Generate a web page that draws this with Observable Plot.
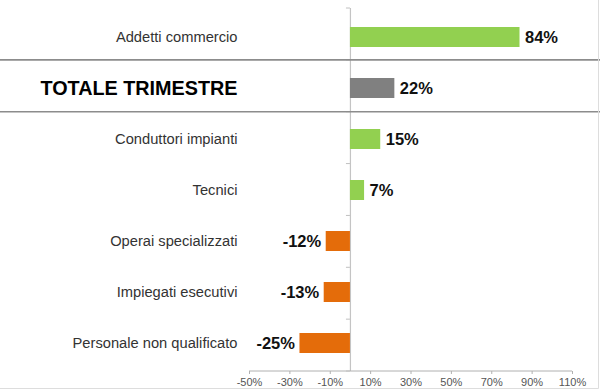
<!DOCTYPE html>
<html>
<head>
<meta charset="utf-8">
<script src="https://cdn.jsdelivr.net/npm/d3@7"></script>
<script src="https://cdn.jsdelivr.net/npm/@observablehq/plot@0.6"></script>
<style>
  html, body { margin: 0; padding: 0; background: #fff; }
  #chart { width: 600px; height: 390px; }
</style>
</head>
<body>
<div id="chart"></div>
<script>
const categories = ["Addetti commercio", "TOTALE TRIMESTRE", "Conduttori impianti", "Tecnici", "Operai specializzati", "Impiegati esecutivi", "Personale non qualificato"];
const values = [84, 22, 15, 7, -12, -13, -25];
const totalCategory = "TOTALE TRIMESTRE";
const xTicks = [-50, -30, -10, 10, 30, 50, 70, 90, 110];

const colors = { pos: "#92D050", neg: "#E46C0A", total: "#808080" };

const data = categories.map((cat, i) => ({
  cat,
  value: values[i],
  kind: cat === totalCategory ? "total" : (values[i] >= 0 ? "pos" : "neg")
}));

// Decorations: bottom axis line, category separators, small boundary ticks, outer border
function decorations(index, scales, values, dims) {
  const top = dims.marginTop;
  const bottom = dims.height - dims.marginBottom;
  const n = categories.length;
  const step = (bottom - top) / n;
  const x = scales.x;
  const g = d3.create("svg:g");
  const x0 = x(0);
  g.append("line")
    .attr("x1", x(xTicks[0])).attr("x2", x(xTicks[xTicks.length - 1]))
    .attr("y1", bottom).attr("y2", bottom)
    .attr("stroke", "#b0b0b0").attr("stroke-width", 1);
  for (let k = 0; k <= n; k++) {
    const yb = top + k * step;
    g.append("line")
      .attr("x1", x0 - 4).attr("x2", x0)
      .attr("y1", yb).attr("y2", yb)
      .attr("stroke", "#c0c0c0").attr("stroke-width", 1);
  }
  const ti = categories.indexOf(totalCategory);
  [ti, ti + 1].forEach(k => {
    const yb = top + k * step;
    g.append("line")
      .attr("x1", 0).attr("x2", dims.width)
      .attr("y1", yb).attr("y2", yb)
      .attr("stroke", "#8c8c8c").attr("stroke-width", 1.6);
  });
  g.append("path")
    .attr("d", `M${dims.width - 1.5},0V${dims.height - 1.5}H0`)
    .attr("fill", "none").attr("stroke", "#dddddd").attr("stroke-width", 1);
  return g.node();
}

const plot = Plot.plot({
  width: 600,
  height: 390,
  marginTop: 8,
  marginBottom: 19,
  marginLeft: 249,
  marginRight: 28,
  style: { fontFamily: "'Liberation Sans', Arial, sans-serif", background: "#fff", overflow: "visible" },
  x: { domain: [-50, 110], label: null },
  y: { domain: categories, paddingInner: 0.61, paddingOuter: 0.305, axis: null },
  marks: [
    Plot.axisX({ ticks: xTicks, tickFormat: d => d + "%", tickSize: 3, tickPadding: 4, fontSize: 11, stroke: "#b0b0b0", fill: "#555", label: null }),
    Plot.ruleX([0], { stroke: "#c4c4c4", strokeWidth: 1.2 }),
    decorations,
    Plot.barX(data, { x: "value", y: "cat", fill: d => colors[d.kind] }),
    Plot.text(data.filter(d => d.value >= 0), { x: "value", y: "cat", text: d => d.value + "%", textAnchor: "start", dx: 5, fontSize: 16.5, fontWeight: "bold", fill: "#111" }),
    Plot.text(data.filter(d => d.value < 0), { x: "value", y: "cat", text: d => d.value + "%", textAnchor: "end", dx: -5, fontSize: 16.5, fontWeight: "bold", fill: "#111" }),
    Plot.text(data.filter(d => d.kind !== "total"), { y: "cat", text: "cat", frameAnchor: "left", dx: -12, textAnchor: "end", fontSize: 14.7, fill: "#333" }),
    Plot.text(data.filter(d => d.kind === "total"), { y: "cat", text: "cat", frameAnchor: "left", dx: -12, textAnchor: "end", fontSize: 19.8, fontWeight: "bold", fill: "#000" })
  ]
});
document.getElementById("chart").appendChild(plot);
</script>
</body>
</html>
